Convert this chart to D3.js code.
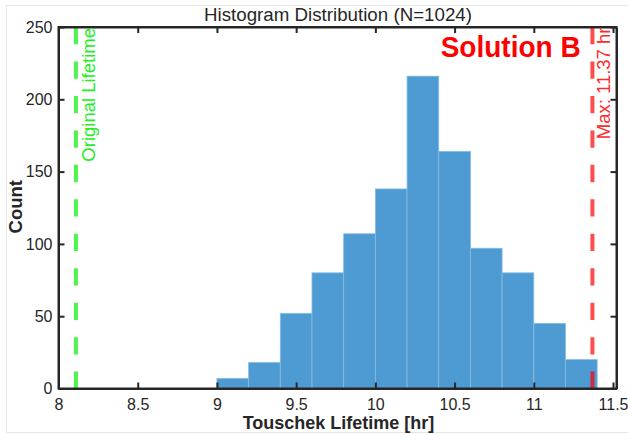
<!DOCTYPE html>
<html>
<head>
<meta charset="utf-8">
<script src="https://cdn.jsdelivr.net/npm/d3@7"></script>
<style>
html,body{margin:0;padding:0;background:#fff;}
svg{display:block;font-family:"Liberation Sans",Arial,Helvetica,sans-serif;}
</style>
</head>
<body>
<svg id="chart" width="628" height="434"></svg>
<script>
// ---- data ----
const binEdges = [9.0, 9.2, 9.4, 9.6, 9.8, 10.0, 10.2, 10.4, 10.6, 10.8, 11.0, 11.2, 11.4];
const counts   = [7, 18, 52, 80, 107, 138, 216, 164, 97, 80, 45, 20];
const xTicks = [8, 8.5, 9, 9.5, 10, 10.5, 11, 11.5];
const yTicks = [0, 50, 100, 150, 200, 250];
const originalLifetime = 8.11;
const maxLifetime = 11.37;
const titleText = "Histogram Distribution (N=1024)";
const xLabelText = "Touschek Lifetime [hr]";
const yLabelText = "Count";
const annotationText = "Solution B";

const bins = counts.map((c, i) => ({x0: binEdges[i], x1: binEdges[i + 1], count: c}));

const svg = d3.select("#chart");
const L = 58.5, R = 616.5, T = 27, B = 388.5;
const x = d3.scaleLinear().domain([8, 11.522]).range([L, R]);
const y = d3.scaleLinear().domain([0, 250]).range([B, T]);
const axisColor = "#262626";

// figure border
svg.append("rect").attr("x", 6.5).attr("y", 5.5).attr("width", 640).attr("height", 427)
  .attr("fill", "none").attr("stroke", "#e6e6e6").attr("stroke-width", 1);

// bars
svg.append("g").selectAll("rect").data(bins).join("rect")
  .attr("x", d => x(d.x0))
  .attr("y", d => y(d.count))
  .attr("width", d => x(d.x1) - x(d.x0))
  .attr("height", d => y(0) - y(d.count))
  .attr("fill", "#4d9bd2")
  .attr("stroke", "#86bde3")
  .attr("stroke-width", 0.8);

// reference lines
const dash = "17.3,17.16";
svg.append("line").attr("x1", x(originalLifetime)).attr("x2", x(originalLifetime))
  .attr("y1", T).attr("y2", B)
  .attr("stroke", "rgba(0,240,0,0.7)").attr("stroke-width", 4).attr("stroke-dasharray", dash);
svg.append("line").attr("x1", x(maxLifetime)).attr("x2", x(maxLifetime))
  .attr("y1", T).attr("y2", B)
  .attr("stroke", "rgba(255,0,0,0.7)").attr("stroke-width", 4).attr("stroke-dasharray", dash);

// axes
const fmt = d => String(d);
const gx = svg.append("g").attr("transform", `translate(0,${B})`)
  .call(d3.axisBottom(x).tickValues(xTicks).tickFormat(fmt).tickSizeInner(-6).tickSizeOuter(0).tickPadding(10));
const gxt = svg.append("g").attr("transform", `translate(0,${T})`)
  .call(d3.axisTop(x).tickValues(xTicks).tickFormat("").tickSizeInner(-6).tickSizeOuter(0));
const gy = svg.append("g").attr("transform", `translate(${L},0)`)
  .call(d3.axisLeft(y).tickValues(yTicks).tickFormat(fmt).tickSizeInner(-6).tickSizeOuter(0).tickPadding(6));
const gyr = svg.append("g").attr("transform", `translate(${R},0)`)
  .call(d3.axisRight(y).tickValues(yTicks).tickFormat("").tickSizeInner(-6).tickSizeOuter(0));
[gx, gxt, gy, gyr].forEach(g => {
  g.select(".domain").attr("stroke", axisColor).attr("stroke-width", 2);
  g.selectAll(".tick line").attr("stroke", axisColor).attr("stroke-width", 2);
  g.selectAll(".tick text").attr("fill", axisColor).attr("font-size", 16)
    .attr("font-family", "Liberation Sans, Arial, sans-serif");
});
// close box corners
svg.append("rect").attr("x", L).attr("y", T).attr("width", R - L).attr("height", B - T)
  .attr("fill", "none").attr("stroke", axisColor).attr("stroke-width", 2);

// title
svg.append("text").attr("x", 338).attr("y", 20.7).attr("text-anchor", "middle")
  .attr("font-size", 18).attr("fill", axisColor)
  .attr("textLength", 268).attr("lengthAdjust", "spacingAndGlyphs").text(titleText);
// x label
svg.append("text").attr("x", 338.5).attr("y", 428.7).attr("text-anchor", "middle")
  .attr("font-size", 18).attr("font-weight", "bold").attr("fill", axisColor).text(xLabelText);
// y label
svg.append("text").attr("transform", "translate(21.7,206.7) rotate(-90)").attr("text-anchor", "middle")
  .attr("font-size", 18.5).attr("font-weight", "bold").attr("fill", axisColor).text(yLabelText);

// line labels
svg.append("text").attr("transform", `translate(${x(originalLifetime) + 19},28) rotate(-90)`)
  .attr("text-anchor", "end").attr("font-size", 18.5).attr("fill", "#22ee22").text("Original Lifetime");
svg.append("text").attr("transform", `translate(${x(maxLifetime) + 17.5},27.5) rotate(-90)`)
  .attr("text-anchor", "end").attr("font-size", 18.5).attr("fill", "#ff2a2a")
  .text("Max: " + maxLifetime.toFixed(2) + " hr");

// annotation
svg.append("text").attr("x", 440.7).attr("y", 57.3)
  .attr("font-size", 29).attr("font-weight", "bold").attr("fill", "#ff0000")
  .attr("textLength", 140).attr("lengthAdjust", "spacingAndGlyphs").text(annotationText);
</script>
</body>
</html>
